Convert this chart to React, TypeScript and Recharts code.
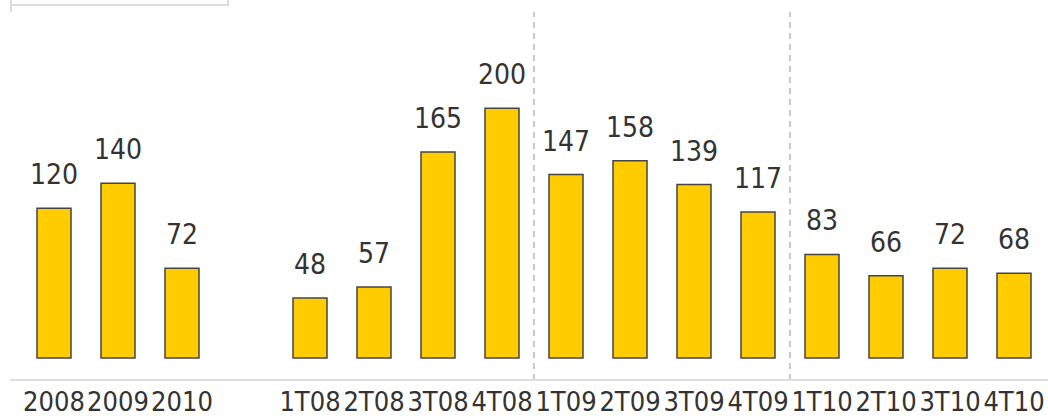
import { BarChart, Bar, XAxis, YAxis, ReferenceLine, LabelList } from 'recharts';

// '' is the empty slot between the yearly and the quarterly bars
const categories = ['2008', '2009', '2010', '', '1T08', '2T08', '3T08', '4T08', '1T09', '2T09', '3T09', '4T09', '1T10', '2T10', '3T10', '4T10'];
const values: (number | null)[] = [120, 140, 72, null, 48, 57, 165, 200, 147, 158, 139, 117, 83, 66, 72, 68];
const dividers = ['1T09', '1T10'];

const data = categories.map((name, i) => ({ name, value: values[i] }));

const FONT = "'DejaVu Sans Condensed', 'DejaVu Sans', sans-serif";
const TEXT = '#333333';
const GRID = '#dddddd';

export default function App() {
  return (
    <div style={{ position: 'absolute', left: 0, top: 0, width: 1048, height: 416, background: '#fff', fontFamily: FONT, fontStretch: 'condensed', overflow: 'hidden' }}>
      {/* cut-off legend frame in the corner */}
      <div style={{ position: 'absolute', left: 10, top: -20, width: 219, height: 26, border: `2px solid ${GRID}`, boxSizing: 'border-box' }} />
      <div style={{ position: 'absolute', left: 10, top: 0, width: 2, height: 12, background: GRID }} />
      <BarChart width={1048} height={416} data={data} margin={{ top: 12, right: 0, left: 10, bottom: 0 }}>
        <YAxis
          width={0}
          domain={[-17.6, 277.2]}
          allowDataOverflow
          tick={false}
          tickLine={false}
          axisLine={{ stroke: GRID, strokeWidth: 2 }}
        />
        <XAxis
          dataKey="name"
          height={36}
          interval={0}
          padding={{ left: 12, right: 2 }}
          tickLine={false}
          tickMargin={6}
          axisLine={{ stroke: GRID, strokeWidth: 2 }}
          tick={{ fill: TEXT, fontSize: 27, fontFamily: FONT, style: { fontStretch: 'condensed' } }}
        />
        {dividers.map((d) => (
          <ReferenceLine key={d} x={d} position="start" stroke="#bbbbbb" strokeWidth={1.5} strokeDasharray="6 5" />
        ))}
        <Bar dataKey="value" barSize={34} fill="#ffcc00" stroke="#444444" strokeWidth={1.5} isAnimationActive={false}>
          <LabelList dataKey="value" position="top" offset={24} fill={TEXT} fontSize={28} fontFamily={FONT} style={{ fontStretch: 'condensed' }} />
        </Bar>
      </BarChart>
    </div>
  );
}
